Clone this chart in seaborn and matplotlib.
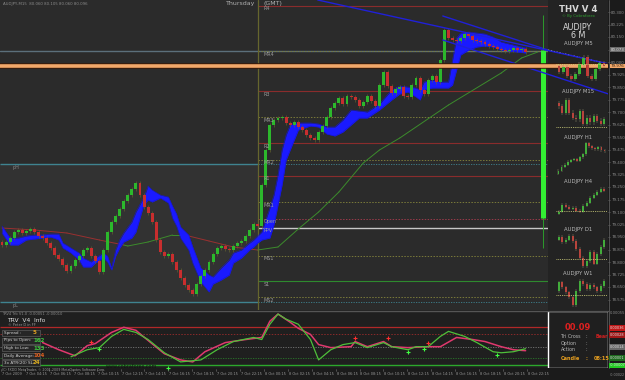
import numpy as np
import pandas as pd
import matplotlib
matplotlib.use("Agg")
import matplotlib.pyplot as plt
import matplotlib.patheffects as pe
from matplotlib.patches import Rectangle
import seaborn as sns

# ------------------------------------------------------------------ data
first_open = 78.920
closes = [
    78.902, 78.920, 78.944, 78.980, 78.992, 78.974, 78.986, 78.998, 78.980, 78.956,
    78.944, 78.914, 78.884, 78.842, 78.818, 78.782, 78.746, 78.776, 78.812, 78.836,
    78.872, 78.884, 78.836, 78.806, 78.740, 78.872, 78.980, 79.040, 79.076, 79.118,
    79.166, 79.202, 79.238, 79.274, 79.202, 79.130, 79.094, 79.040, 78.932, 78.860,
    78.836, 78.848, 78.800, 78.752, 78.704, 78.662, 78.632, 78.608, 78.668, 78.716,
    78.752, 78.800, 78.848, 78.884, 78.896, 78.878, 78.872, 78.896, 78.914, 78.926,
    78.956, 78.992, 79.028,
    79.016, 79.262, 79.472, 79.622, 79.652, 79.664, 79.670, 79.634, 79.622, 79.640,
    79.610, 79.592, 79.562, 79.544, 79.532, 79.580, 79.616, 79.670, 79.724, 79.754,
    79.784, 79.748, 79.796, 79.790, 79.772, 79.736, 79.760, 79.796, 79.766, 79.736,
    79.862, 79.940, 79.856, 79.814, 79.838, 79.850, 79.796, 79.790, 79.862, 79.904,
    79.832, 79.808, 79.892, 79.916, 79.880, 80.012, 80.192, 80.144, 80.132, 80.126,
    80.144, 80.168, 80.156, 80.132, 80.126, 80.120, 80.108, 80.096, 80.090, 80.078,
    80.072, 80.066, 80.072, 80.084, 80.072, 80.078, 80.060,
]

band_idx = [0, 2, 4, 6, 8, 10, 12, 14, 15, 17, 19, 20, 22, 23, 25, 26, 27, 28, 29, 30,
            32, 33, 35, 36, 37, 39, 41, 42, 43, 44, 46, 47, 49, 51, 52, 54, 56, 57, 59, 61,
            62, 63, 64, 66, 67, 68, 69, 70, 71, 72, 73, 76, 78, 80, 82, 84, 86, 88, 90, 93,
            96, 98, 100, 102, 103, 104, 106, 108, 110, 111, 112, 113, 115, 117, 119, 121, 123, 125, 127, 129]
band_hi = [79.016, 78.944, 78.944, 78.956, 78.962, 78.962, 78.968, 78.968, 78.914, 78.884,
           78.854, 78.824, 78.800, 78.824, 78.854, 78.836, 78.764, 78.872, 78.932, 78.974,
           79.040, 79.100, 79.190, 79.256, 79.232, 79.202, 79.190, 79.136, 79.088, 79.010,
           78.962, 78.890, 78.764, 78.722, 78.710, 78.764, 78.812, 78.854, 78.872, 78.914,
           78.932, 78.956, 78.980, 79.124, 79.202, 79.322, 79.472, 79.562, 79.622, 79.634,
           79.634, 79.634, 79.628, 79.610, 79.610, 79.652, 79.712, 79.706, 79.700, 79.748,
           79.832, 79.856, 79.850, 79.844, 79.832, 79.880, 79.892, 79.880, 79.880, 80.012,
           80.144, 80.174, 80.180, 80.174, 80.168, 80.150, 80.120, 80.108, 80.096, 80.084]
band_lo = [78.974, 78.902, 78.902, 78.932, 78.938, 78.944, 78.950, 78.932, 78.884, 78.854,
           78.812, 78.770, 78.770, 78.794, 78.824, 78.800, 78.752, 78.836, 78.884, 78.920,
           78.944, 78.980, 79.148, 79.172, 79.160, 79.184, 79.154, 79.064, 79.016, 78.944,
           78.872, 78.794, 78.680, 78.620, 78.668, 78.692, 78.722, 78.794, 78.824, 78.872,
           78.890, 78.914, 78.932, 78.944, 79.022, 79.142, 79.262, 79.412, 79.472, 79.532,
           79.592, 79.616, 79.610, 79.568, 79.556, 79.580, 79.622, 79.664, 79.664, 79.712,
           79.772, 79.808, 79.820, 79.790, 79.772, 79.832, 79.844, 79.844, 79.844, 79.862,
           79.952, 80.042, 80.072, 80.090, 80.096, 80.090, 80.072, 80.066, 80.060, 80.054]

ma_idx = [0, 8, 16, 24, 30, 31, 36, 42, 45, 51, 57, 63, 68, 73, 78, 83, 89, 93, 98, 110, 123, 128, 132]
ma_val = [79.004, 78.992, 78.974, 78.932, 78.902, 78.896, 78.920, 78.962, 78.962, 78.926,
          78.890, 78.872, 78.890, 78.998, 79.100, 79.220, 79.394, 79.472, 79.544, 79.742,
          79.934, 80.024, 80.060]
ma_dir = ["down"] * 5 + ["up"] * 4 + ["down"] * 3 + ["up"] * 11

level_names = ["R4", "MR4", "R3", "MR3", "R2", "MR2", "R1", "MR1", "Open", "PPV", "MS1", "S1", "MS2"]
level_values = [80.336, 80.066, 79.826, 79.670, 79.514, 79.412, 79.316, 79.160, 79.058, 79.004,
                78.836, 78.686, 78.590]
ref_line = 80.066
orange_line = 79.976
prev_high = 79.388
prev_low = 78.560

price_ticks = ["80.300", "80.225", "80.150", "80.075", "80.000", "79.925", "79.850", "79.775",
               "79.700", "79.625", "79.550", "79.475", "79.400", "79.325", "79.250", "79.175",
               "79.100", "79.025", "78.950", "78.875", "78.800", "78.725", "78.650", "78.575"]

trend_long = ([77.8, 153.0], [80.372, 79.970])
chan_top = ([108.6, 134.5], [80.276, 80.072])
chan_top_proj = ([134.5, 147.3], [80.072, 80.000])
chan_bot = ([108.6, 150.2], [80.132, 79.802])

bar_idx = 133.2
bar_top, bar_bottom = 80.072, 79.064
bar_wick_top, bar_wick_bottom = 80.282, 78.884

osc_red_idx = [10, 14, 18, 21, 23, 27, 30, 33, 36, 40, 44, 47, 50, 55, 60, 64, 66, 68, 71, 73,
               76, 78, 81, 86, 87, 90, 94, 96, 100, 105, 108, 112, 116, 119, 123, 126, 129]
osc_red = [0.000187, 0.000105, 0.000035, 0.000152, 0.000176, 0.000304, 0.000363, 0.000328,
           0.000211, 0.000059, -0.000012, -0.000035, 0.000082, 0.000187, 0.000222, 0.000246,
           0.000433, 0.000515, 0.000421, 0.000351, 0.000281, 0.000164, 0.000129, 0.000140,
           0.000199, 0.000140, 0.000199, 0.000140, 0.000129, 0.000140, 0.000140, 0.000246,
           0.000222, 0.000199, 0.000140, 0.000105, 0.000094]
osc_grn_idx = [17, 21, 24, 27, 30, 33, 36, 40, 44, 49, 53, 57, 62, 64, 66, 68, 70, 73, 76, 78,
               81, 84, 87, 90, 94, 96, 100, 102, 105, 108, 110, 114, 117, 121, 123, 126, 129]
osc_grn = [0.000024, 0.000105, 0.000129, 0.000258, 0.000339, 0.000304, 0.000222, 0.000070,
           -0.000035, -0.000012, 0.000105, 0.000199, 0.000246, 0.000222, 0.000398, 0.000515,
           0.000456, 0.000398, 0.000222, -0.000012, 0.000105, 0.000164, 0.000187, 0.000129,
           0.000187, 0.000140, 0.000105, 0.000140, 0.000140, 0.000258, 0.000316, 0.000258,
           0.000187, 0.000082, 0.000070, 0.000082, 0.000117]
osc_levels = [0.000363, 0.000281, 0.000140, 0.000012, -0.000070]
cross_red_idx = [22, 87, 95, 105]
cross_red_val = [0.000199, 0.000234, 0.000234, 0.000187]
cross_grn_idx = [24, 41, 100, 104, 122]
cross_grn_val = [0.000117, -0.000105, 0.000082, 0.000117, 0.000047]

info_labels = ["Spread :", "Pips to Open:", "High to Low:", "Daily Average:", "3x ATR(20) SL:"]
info_values = ["5", "162", "133", "104", "24"]
info_colors = ["#e0a020", "#40c040", "#40c040", "#e06020", "#e0b020"]

time_labels = ["7 Oct 2009", "7 Oct 04:15", "7 Oct 06:15", "7 Oct 08:15", "7 Oct 10:15",
               "7 Oct 12:15", "7 Oct 14:15", "7 Oct 16:15", "7 Oct 18:15", "7 Oct 20:15",
               "7 Oct 22:15", "8 Oct 00:15", "8 Oct 02:15", "8 Oct 04:15", "8 Oct 06:15",
               "8 Oct 08:15", "8 Oct 10:15", "8 Oct 12:15", "8 Oct 14:15", "8 Oct 16:15",
               "8 Oct 18:15", "8 Oct 20:15", "8 Oct 22:15"]

mini_names = ["AUDJPY M5", "AUDJPY M15", "AUDJPY H1", "AUDJPY H4", "AUDJPY D1", "AUDJPY W1"]
mini_first = [20, 24, 2, 2, 30, 18]
mini_closes = [
    [16, 19, 13, 11, 14, 21, 26, 13, 11, 18, 22, 20],
    [22, 18, 26, 18, 15, 14, 19, 11, 15, 12, 16, 13, 11, 14],
    [5, 9, 11, 14, 16, 17, 15, 19, 22, 33, 30, 28, 27, 29, 26, 25],
    [4, 11, 9, 7, 8, 5, 4, 10, 13, 18, 21, 24, 27, 25],
    [32, 28, 30, 33, 29, 22, 15, 8, 12, 20, 10, 18, 24, 30],
    [25, 21, 17, 13, 7, 18, 26, 24, 20, 23, 21, 18, 22, 26],
]
mini_ma = [21, 9, None, 5, 14, 15]

# ------------------------------------------------------------------ style
sns.set_theme(style="dark")
plt.rcParams["font.family"] = ["DejaVu Sans"]

W, H = 625, 380
fig = plt.figure(figsize=(6.25, 3.8), dpi=100)
fig.patch.set_facecolor("#1b1b1b")

def fx(px):
    return px / W

def fy(py):
    return 1 - py / H

MAIN_BG = "#2b2b2b"
GREEN = "#2cb82c"
RED = "#c82e2e"

# main axes: pixels x 0..608, y 0..310
ax = fig.add_axes([0, fy(310), fx(608), 310 / H])
ax.set_facecolor(MAIN_BG)
x_lo, x_hi = -0.49, 149.3
ax.set_xlim(x_lo, x_hi)
ax.set_ylim(78.512, 80.372)
for s in ax.spines.values():
    s.set_visible(False)
ax.grid(False)

day_split = 63.05
right_end = 134.5

# previous-day box
ax.add_patch(Rectangle((x_lo, prev_low), day_split - x_lo, prev_high - prev_low,
                       facecolor="#323232", edgecolor="none", zorder=0))
ax.hlines([prev_high, prev_low], x_lo, day_split, colors="#3f8390", lw=1.0, zorder=1)
ax.hlines([prev_high, prev_low], day_split, right_end, colors="#3f8390", lw=0.6,
          linestyles=(0, (1.5, 1.5)), zorder=1)
ax.text(2.6, prev_high - 0.022, "pH", color="#8a8a8a", fontsize=3.5, va="center")
ax.text(2.6, prev_low - 0.022, "pL", color="#8a8a8a", fontsize=3.5, va="center")

# full width reference lines
ax.axhline(ref_line, color="#5b6f7b", lw=1.0, zorder=1)

# pivot levels
for name, v in zip(level_names, level_values):
    if name in ("R4", "R3", "R2", "R1"):
        ax.hlines(v, day_split, right_end, colors="#8a2c2c", lw=0.8, zorder=1)
    elif name == "Open":
        ax.hlines(v, day_split, right_end, colors="#9a3a4a", lw=0.7, linestyles=(0, (1.5, 1.5)), zorder=1)
    elif name == "PPV":
        ax.hlines(v, day_split, right_end, colors="#c8c8c8", lw=1.0, zorder=1)
    elif name == "S1":
        ax.hlines(v, day_split, right_end, colors="#2e8a2e", lw=0.8, zorder=1)
    else:
        ax.hlines(v, day_split, right_end, colors="#7a7a3a", lw=0.7, linestyles=(0, (1.5, 1.5)), zorder=1)
    ax.text(day_split + 1.5, v - 0.018, name, color="#9a9a9a", fontsize=3.5, va="center", zorder=7)

ax.axvline(day_split, color="#66662e", lw=0.9, zorder=2)

# cloud
ax.fill_between(band_idx, band_lo, band_hi, color="#1a1aff", lw=0, zorder=3)
ax.plot(band_idx, band_hi, color="#1414d0", lw=0.4, zorder=3)
ax.plot(band_idx, band_lo, color="#1414d0", lw=0.4, zorder=3)

# moving average (coloured by direction)
ma_df = pd.DataFrame({"idx": ma_idx, "val": ma_val, "dir": ma_dir})
for k in range(1, len(ma_df)):
    seg = ma_df.iloc[k - 1:k + 1]
    col = "#3c8c2c" if ma_df["dir"].iloc[k] == "up" else "#9a3030"
    sns.lineplot(data=seg, x="idx", y="val", ax=ax, color=col, lw=0.7, zorder=2, legend=False)

# candles
opens = [first_open] + closes[:-1]
cdf = pd.DataFrame({"idx": np.arange(len(closes)), "open": opens, "close": closes})
cdf["lo"] = cdf[["open", "close"]].min(axis=1)
cdf["body"] = (cdf["close"] - cdf["open"]).abs().clip(lower=0.004)
cdf["col"] = np.where(cdf["close"] >= cdf["open"], GREEN, RED)
ax.vlines(cdf["idx"], cdf["lo"] - 0.012, cdf["lo"] + cdf["body"] + 0.012, color="#6a6a2e", lw=0.4, zorder=4)
ax.bar(cdf["idx"], cdf["body"], bottom=cdf["lo"], width=0.72, color=cdf["col"], lw=0, zorder=4)

# trend lines
ax.plot(*chan_top, color="#2020d8", lw=1.0, zorder=5)

# right info panel
ax.add_patch(Rectangle((right_end, 78.512), x_hi - right_end, 80.372 - 78.512,
                       facecolor="#232323", edgecolor="none", zorder=6))
ax.plot(*chan_top_proj, color="#d0d0d0", lw=0.7, ls=(0, (1.5, 1.5)), zorder=8)
ax.plot(*trend_long, color="#2020d8", lw=1.0, zorder=8)
ax.plot(*chan_bot, color="#2020d8", lw=1.0, zorder=8)
ax.axhline(orange_line, color="#f2a86a", lw=2.6, zorder=9,
           path_effects=[pe.Stroke(linewidth=4.0, foreground="#3a1a08"), pe.Normal()])

# big green bar
ax.vlines(bar_idx, bar_wick_bottom, bar_wick_top, color="#2c9c2c", lw=0.7, zorder=5)
ax.vlines(bar_idx, bar_bottom, bar_top, color="#33ee33", lw=3.6, zorder=5)

# price axis
ax.yaxis.tick_right()
pt = [float(t) for t in price_ticks]
ax.set_yticks(pt)
ax.set_yticklabels(price_ticks, fontsize=2.9, color="#8a8a8a")
ax.tick_params(axis="y", length=1.5, pad=0.8, colors="#8a8a8a", width=0.4)
ax.set_xticks([])
ax.set_xlabel("")
ax.set_ylabel("")

# current price boxes on axis
for val, txt, fc, tc in [(80.073, "80.073", "#6a6a6a", "#e0e0e0"), (orange_line, "79.976", "#f2a86a", "#302010")]:
    ax.text(1.004, val, txt, transform=ax.get_yaxis_transform(), fontsize=2.9, color=tc,
            va="center", ha="left", zorder=10, clip_on=False,
            bbox=dict(boxstyle="square,pad=0.12", fc=fc, ec="none"))

# header texts
fig.text(fx(3), fy(4), "AUDJPY,M15  80.060 80.105 80.060 80.096", fontsize=2.8, color="#8a8a8a", va="center")
fig.text(fx(255), fy(4), "Thursday", fontsize=4.5, color="#b0b0b0", va="center", ha="right")
fig.text(fx(263), fy(4), "(GMT)", fontsize=4.5, color="#b0b0b0", va="center", ha="left")

# panel titles
fig.text(fx(578), fy(9), "THV V 4", fontsize=6.2, color="#d8d8d8", ha="center", va="center", weight="bold")
fig.text(fx(578), fy(16.5), "© By Cobraforex", fontsize=2.8, color="#2fa02f", ha="center", va="center")
fig.text(fx(578), fy(27), "AUDJPY", fontsize=5.8, color="#d8d8d8", ha="center", va="center")
fig.text(fx(578), fy(36), "6 M", fontsize=5.8, color="#d8d8d8", ha="center", va="center")

mini_boxes = [(44, 54, 82), (91, 96, 128), (137, 141, 176), (182, 186, 216), (229, 233, 269), (274, 278, 308)]
for (ly, top, bot), name, fo, cl, mm in zip(mini_boxes, mini_names, mini_first, mini_closes, mini_ma):
    fig.text(fx(578), fy(ly), name, fontsize=3.8, color="#b8b8b8", ha="center", va="center", zorder=12)
    m = fig.add_axes([fx(556), fy(bot), fx(51), (bot - top) / H])
    m.set_facecolor("none")
    m.axis("off")
    m.set_zorder(12)
    op = [fo] + cl[:-1]
    md = pd.DataFrame({"i": np.arange(len(cl)), "o": op, "c": cl})
    md["lo"] = md[["o", "c"]].min(axis=1)
    md["b"] = (md["c"] - md["o"]).abs().clip(lower=0.8)
    md["col"] = np.where(md["c"] >= md["o"], GREEN, RED)
    m.vlines(md["i"], md["lo"] - 1.5, md["lo"] + md["b"] + 1.5, color="#8a8a6a", lw=0.35)
    m.bar(md["i"], md["b"], bottom=md["lo"], width=0.62, color=md["col"], lw=0)
    if mm is not None:
        m.axhline(mm, color="#d8d880", lw=0.6, ls=(0, (1, 1.2)))
    m.set_xlim(-0.8, len(cl) - 0.2)
    lo_all = min(min(cl), fo)
    hi_all = max(max(cl), fo)
    m.set_ylim(lo_all - 2.5, hi_all + 2.5)

# separator between windows
fig.add_artist(plt.Line2D([0, fx(608)], [fy(311), fy(311)], color="#555555", lw=1.0))

# ------------------------------------------------------------------ indicator window
ai = fig.add_axes([0, fy(368), fx(608), 57 / H])
ai.set_facecolor("#1f1f1f")
ai.set_xlim(x_lo, x_hi)
ai.set_ylim(-0.000105, 0.00055)
for s in ai.spines.values():
    s.set_visible(False)
ai.grid(False)
lv_styles = [("#b02828", "-", 0.9), ("#8a2a2a", (0, (1.5, 1.5)), 0.7), ("#777777", (0, (1.5, 1.5)), 0.6),
             ("#2a7a2a", (0, (1.5, 1.5)), 0.6), ("#2ca82c", "-", 1.0)]
for v, (c, ls, lw) in zip(osc_levels, lv_styles):
    ai.hlines(v, x_lo, right_end, colors=c, linestyles=ls, lw=lw)

rd = pd.DataFrame({"idx": osc_red_idx, "v": osc_red})
gd = pd.DataFrame({"idx": osc_grn_idx, "v": osc_grn})
sns.lineplot(data=rd, x="idx", y="v", ax=ai, color="#e0386e", lw=1.1, legend=False)
sns.lineplot(data=gd, x="idx", y="v", ax=ai, color="#4ec03a", lw=0.9, legend=False)
ai.scatter(cross_red_idx, cross_red_val, marker="+", s=10, color="#ff3030", lw=0.8, zorder=5)
ai.scatter(cross_grn_idx, cross_grn_val, marker="+", s=10, color="#40ff40", lw=0.8, zorder=5, clip_on=False)
ai.add_patch(Rectangle((right_end, -0.000105), x_hi - right_end, 0.000655, facecolor="#1f1f1f", zorder=6))
ai.set_xticks([])
ai.set_yticks([])
ai.set_xlabel("")
ai.set_ylabel("")

# info box
fig.text(fx(2), fy(314), "TRV4 Trb V1.0 -0.00051 -0.00010", fontsize=2.6, color="#8a8a8a", va="center")
fig.text(fx(7), fy(320.5), "TRV  V4  Info", fontsize=4.3, color="#e0e0e0", va="center")
fig.text(fx(8), fy(325.5), "© Peter D in FF", fontsize=2.6, color="#9a9a9a", va="center")
for k, (lab, val, col) in enumerate(zip(info_labels, info_values, info_colors)):
    yy = 333 + k * 7.5
    fig.add_artist(Rectangle((fx(2), fy(yy + 3)), fx(38), 6 / H, facecolor="#262626",
                             edgecolor="#6a6a6a", lw=0.4))
    fig.text(fx(4), fy(yy), lab, fontsize=3.0, color="#d0d0d0", va="center")
    fig.text(fx(33), fy(yy), val, fontsize=4.0, color=col, va="center", weight="bold")
fig.text(fx(2), fy(369.5), "(C) FXDD MetaTrader, © 2001-2009 MetaQuotes Software Corp.", fontsize=2.3,
         color="#9a9a9a", va="center")
fig.text(fx(106), fy(366.5), "www.cobraforex.com", fontsize=3.5, color="#101010", va="center")

# indicator right panel text
fig.text(fx(578), fy(327), "00.09", fontsize=6.0, color="#e02020", ha="center", va="center", weight="bold")
for k, lab in enumerate(["Tri Cross", "Option", "Action"]):
    fig.text(fx(561), fy(337 + k * 6.3), lab, fontsize=3.4, color="#b8b8b8", va="center")
    fig.text(fx(585), fy(337 + k * 6.3), ":", fontsize=3.4, color="#b8b8b8", va="center")
fig.text(fx(596), fy(337), "Bear", fontsize=3.4, color="#d02020", va="center", weight="bold")
fig.text(fx(561), fy(358), "Candle", fontsize=3.6, color="#e8a020", va="center", weight="bold")
fig.text(fx(585), fy(358), ":", fontsize=3.6, color="#e8a020", va="center", weight="bold")
fig.text(fx(594), fy(358), "08:15", fontsize=3.6, color="#e8a020", va="center", weight="bold")

# indicator axis labels
fig.text(fx(610), fy(312.5), "0.00055", fontsize=2.7, color="#8a8a8a", va="center")
fig.text(fx(609.5), fy(375.5), "-0.00022", fontsize=2.4, color="#8a8a8a", va="center")
for yy, fc, txt in [(328, "#c01818", "0.00036"), (335, "#a01818", "0.00028"), (347, "#6a6a6a", "0.00014"),
                    (358, "#1e6a1e", "0.00001"), (365.5, "#22cc22", "-0.00007")]:
    fig.text(fx(610), fy(yy), txt, fontsize=2.5, color="#e0e0e0", va="center",
             bbox=dict(boxstyle="square,pad=0.15", fc=fc, ec="none"))

# right axis border
fig.add_artist(plt.Line2D([fx(608.5), fx(608.5)], [fy(0), fy(368)], color="#5a5a5a", lw=0.6))

# time axis
for k, lab in enumerate(time_labels):
    xx = 2 + k * 23.9
    fig.text(fx(xx), fy(374), lab, fontsize=2.5, color="#9a9a9a", va="center")
    fig.add_artist(plt.Line2D([fx(xx - 1), fx(xx - 1)], [fy(369), fy(371)], color="#7a7a7a", lw=0.4))

fig.savefig("out.png", dpi=100, facecolor=fig.get_facecolor())
